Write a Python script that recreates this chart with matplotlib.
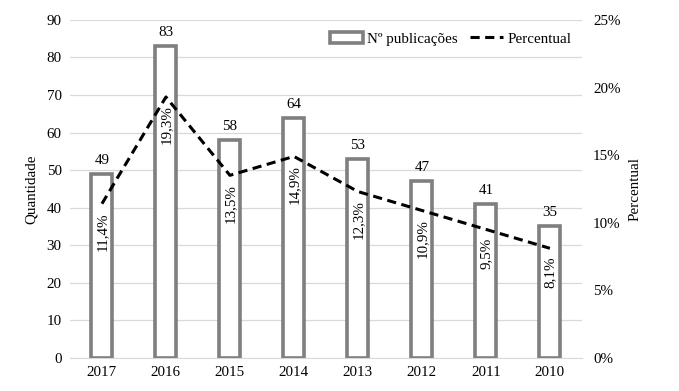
import matplotlib
matplotlib.use("Agg")
import matplotlib.pyplot as plt
from matplotlib.ticker import FuncFormatter

anos = ["2017", "2016", "2015", "2014", "2013", "2012", "2011", "2010"]
publicacoes = [49, 83, 58, 64, 53, 47, 41, 35]
percentual = [11.4, 19.3, 13.5, 14.9, 12.3, 10.9, 9.5, 8.1]

plt.rcParams["font.family"] = ["Liberation Serif", "DejaVu Serif"]
plt.rcParams["font.size"] = 10.8

fig, ax = plt.subplots(figsize=(6.79, 3.91), dpi=100)
fig.subplots_adjust(left=0.103, right=0.857, top=0.949, bottom=0.085)

x = list(range(len(anos)))
ax.set_axisbelow(True)
bars = ax.bar(x, publicacoes, width=0.33, facecolor="white", edgecolor="#7f7f7f",
              linewidth=2.6, label="Nº publicações", zorder=2)
for xi, v in zip(x, publicacoes):
    ax.annotate(str(v), (xi, v), xytext=(0, 5), textcoords="offset points",
                ha="center", va="bottom")

ax.set_ylim(0, 90)
ax.set_yticks(range(0, 91, 10))
ax.set_xlim(-0.5, len(anos) - 0.5)
ax.set_xticks(x)
ax.set_xticklabels(anos)
ax.grid(axis="y", color="#d9d9d9", lw=0.9, zorder=0)
ax.tick_params(length=0, pad=6)
for s in ("top", "right", "left"):
    ax.spines[s].set_visible(False)
ax.spines["bottom"].set_color("#d9d9d9")
ax.set_ylabel("Quantidade", labelpad=6)

ax2 = ax.twinx()
line, = ax2.plot(x, percentual, color="black", lw=2.2, ls=(0, (3, 1.8)),
                 label="Percentual", zorder=3)
ax2.set_ylim(0, 25)
ax2.set_yticks(range(0, 26, 5))
ax2.yaxis.set_major_formatter(FuncFormatter(lambda v, p: f"{v:.0f}%"))
ax2.tick_params(length=0, pad=8)
for s in ax2.spines.values():
    s.set_visible(False)
ax2.set_ylabel("Percentual", labelpad=6)
for xi, v in zip(x, percentual):
    ax2.annotate(f"{v:.1f}%".replace(".", ","), (xi, v), xytext=(0, -6),
                 textcoords="offset points", rotation=90, ha="center", va="top",
                 zorder=4)

leg = ax.legend([bars, line], ["Nº publicações", "Percentual"], loc="upper right",
                bbox_to_anchor=(1.0, 0.995), ncol=2, frameon=True, framealpha=1,
                edgecolor="none", fancybox=False, handlelength=2.2,
                handletextpad=0.3, columnspacing=0.8, borderpad=0.2)
leg.set_zorder(5)

fig.savefig("out.png", dpi=100)
